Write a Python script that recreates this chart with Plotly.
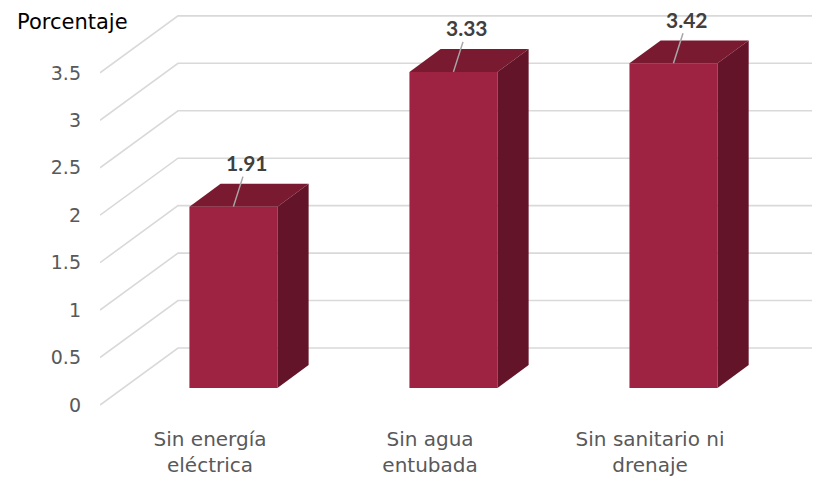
import plotly.graph_objects as go

categories = ["Sin energía<br>eléctrica", "Sin agua<br>entubada", "Sin sanitario ni<br>drenaje"]
values = [1.91, 3.33, 3.42]
y_ticks = [0, 0.5, 1, 1.5, 2, 2.5, 3, 3.5]
y_tick_labels = ["0", "0.5", "1", "1.5", "2", "2.5", "3", "3.5"]

FRONT = "#9E2241"
TOP = "#7A1A31"
SIDE = "#641428"
GRID = "#D9D9D9"
FONT = "DejaVu Sans"
NUMFONT = "Lato"

# pseudo-3D depth projection (front-plane data units)
DX, DY = 0.3545, 0.6006
D0, D1 = 0.3, 0.7
BW = 0.4
XMAX = 3.236

fig = go.Figure()

# floor-to-wall gridlines (behind bars)
shapes = []
for v in y_ticks:
    shapes.append(dict(type="path", xref="x", yref="y", layer="below",
                       path=f"M 0,{v} L {DX},{v + DY} L {XMAX},{v + DY}",
                       line=dict(color=GRID, width=1.6)))

# front faces
fig.add_trace(go.Bar(
    x=[i + 0.5 + D0 * DX for i in range(len(values))],
    y=values, base=D0 * DY, width=BW,
    marker=dict(color=FRONT, line=dict(width=0)),
    hoverinfo="skip", showlegend=False))

for i, v in enumerate(values):
    xl = i + 0.5 - BW / 2
    xr = i + 0.5 + BW / 2
    # top face
    fig.add_trace(go.Scatter(
        x=[xl + D0 * DX, xr + D0 * DX, xr + D1 * DX, xl + D1 * DX, xl + D0 * DX],
        y=[v + D0 * DY, v + D0 * DY, v + D1 * DY, v + D1 * DY, v + D0 * DY],
        fill="toself", fillcolor=TOP, mode="lines", line=dict(width=0),
        hoverinfo="skip", showlegend=False))
    # side face
    fig.add_trace(go.Scatter(
        x=[xr + D0 * DX, xr + D1 * DX, xr + D1 * DX, xr + D0 * DX, xr + D0 * DX],
        y=[D0 * DY, D1 * DY, v + D1 * DY, v + D0 * DY, D0 * DY],
        fill="toself", fillcolor=SIDE, mode="lines", line=dict(width=0),
        hoverinfo="skip", showlegend=False))

annotations = []
for i, v in enumerate(values):
    annotations.append(dict(
        x=i + 0.5 + D0 * DX, y=v + D0 * DY, xref="x", yref="y",
        text=f"{v:.2f}", showarrow=True, arrowhead=0, arrowwidth=1.5,
        arrowcolor="#A6A6A6", ax=14, ay=-44,
        font=dict(family=NUMFONT, size=21, color="#404040", weight="bold")))

annotations.append(dict(
    x=-0.1194, y=0.97, xref="paper", yref="paper", xanchor="left", yanchor="middle",
    text="Porcentaje", showarrow=False,
    font=dict(family=FONT, size=21, color="#000000")))

fig.update_layout(
    width=820, height=484,
    margin=dict(l=92, r=16, t=2, b=82),
    paper_bgcolor="white", plot_bgcolor="white",
    shapes=shapes, annotations=annotations,
    xaxis=dict(range=[0, XMAX], tickvals=[0.5, 1.5, 2.5], ticktext=categories,
               showgrid=False, zeroline=False, showline=False, ticks="",
               ticklabelstandoff=15, automargin=False,
               tickfont=dict(family=FONT, size=20, color="#595959")),
    yaxis=dict(range=[-0.0527, 4.1623], tickvals=y_ticks, ticktext=y_tick_labels,
               showgrid=False, zeroline=False, showline=False, ticks="",
               ticklabelstandoff=18, automargin=False,
               tickfont=dict(family=FONT, size=19, color="#595959")),
)

fig.write_html("out.html")
